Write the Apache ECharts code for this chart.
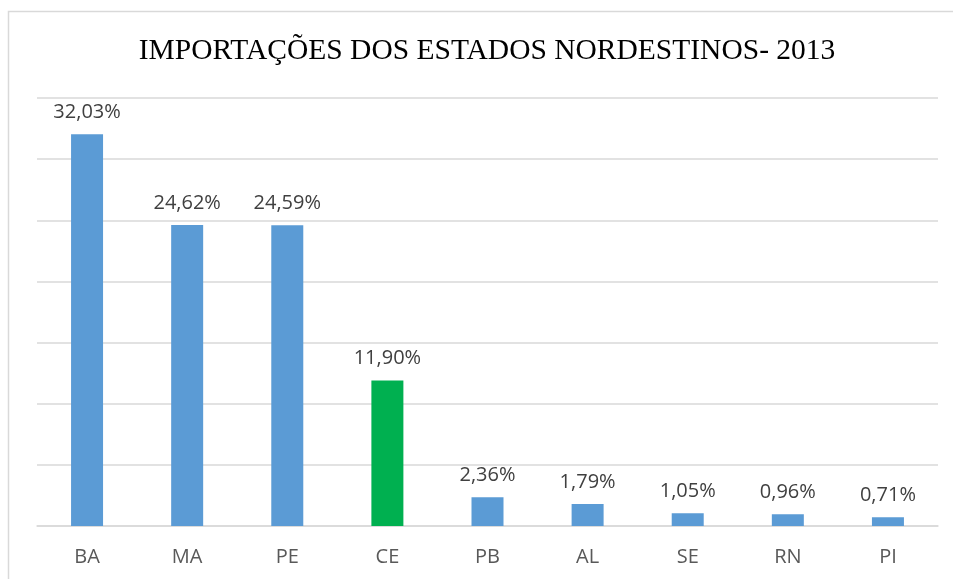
<!DOCTYPE html>
<html>
<head>
<meta charset="utf-8">
<script src="https://cdn.jsdelivr.net/npm/echarts@6/dist/echarts.min.js"></script>
<style>
html, body { margin: 0; padding: 0; background: #fff; }
#chart { width: 953px; height: 579px; }
</style>
</head>
<body>
<div id="chart"></div>
<script>
var estados = ['BA', 'MA', 'PE', 'CE', 'PB', 'AL', 'SE', 'RN', 'PI'];
var valores = [32.03, 24.62, 24.59, 11.90, 2.36, 1.79, 1.05, 0.96, 0.71];
var destaque = 'CE';

var azul = '#5B9BD5';
var verde = '#00B050';

var chart = echarts.init(document.getElementById('chart'));

var dados = valores.map(function (v, i) {
    return {
        value: v,
        itemStyle: {color: estados[i] == destaque ? verde : azul}
    };
});

option = {
    animation: false,
    title: {
        text: 'IMPORTAÇÕES DOS ESTADOS NORDESTINOS- 2013',
        left: 482,
        textAlign: 'center',
        top: 31,
        textStyle: {
            fontFamily: 'Liberation Serif',
            fontWeight: 'normal',
            fontSize: 29.5,
            color: '#000'
        }
    },
    graphic: [{
        type: 'rect',
        shape: {x: 8.5, y: 11.5, width: 1000, height: 1000},
        style: {fill: 'none', stroke: '#d9d9d9', lineWidth: 1.5},
        silent: true
    }],
    grid: {left: 37, right: 15, top: 98, bottom: 53},
    xAxis: {
        type: 'category',
        data: estados,
        axisTick: {show: false},
        axisLine: {lineStyle: {color: '#d9d9d9', width: 1.5}},
        axisLabel: {
            margin: 21,
            fontFamily: 'Open Sans',
            fontSize: 20,
            color: '#595959'
        }
    },
    yAxis: {
        type: 'value',
        min: 0,
        max: 35,
        interval: 5,
        axisLabel: {show: false},
        axisLine: {show: false},
        axisTick: {show: false},
        splitLine: {lineStyle: {color: '#d9d9d9', width: 1.5}}
    },
    series: [{
        type: 'bar',
        data: dados,
        barWidth: 32,
        label: {
            show: true,
            position: 'top',
            distance: 12,
            fontFamily: 'Open Sans',
            fontSize: 20,
            color: '#404040',
            formatter: function (p) {
                return p.value.toFixed(2).replace('.', ',') + '%';
            }
        }
    }]
};

chart.setOption(option);
</script>
</body>
</html>
